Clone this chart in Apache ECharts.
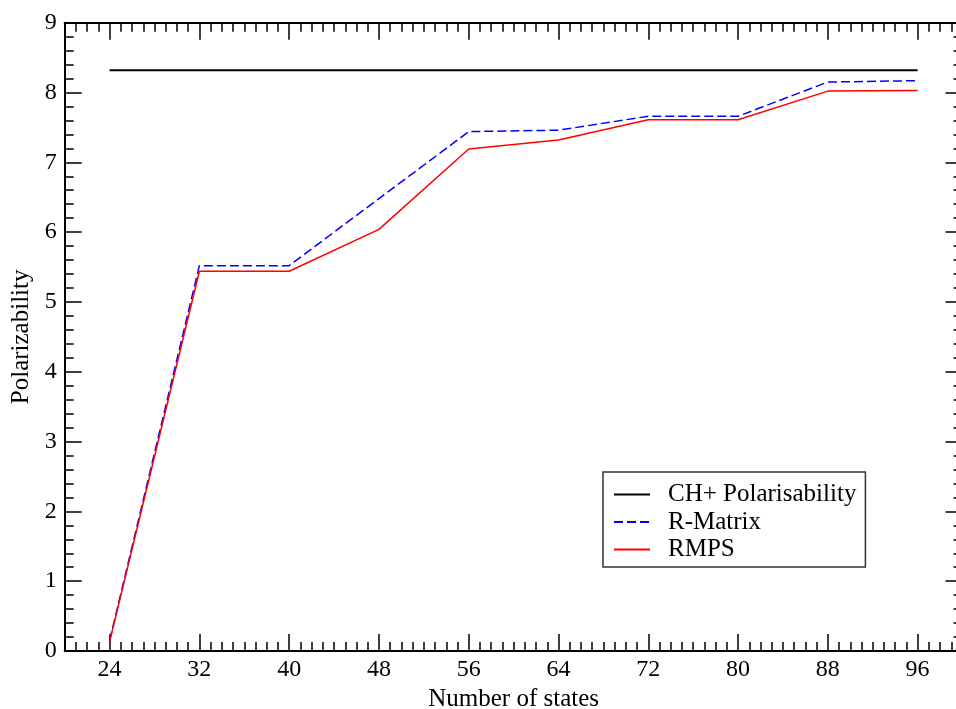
<!DOCTYPE html>
<html>
<head>
<meta charset="utf-8">
<script src="https://cdn.jsdelivr.net/npm/echarts@6/dist/echarts.min.js"></script>
<style>
html,body{margin:0;padding:0;background:#fff;}
#chart{width:956px;height:709px;}
</style>
</head>
<body>
<div id="chart"></div>
<script>
var states = [24, 32, 40, 48, 56, 64, 72, 80, 88, 96];
var chPolar = [8.32, 8.32, 8.32, 8.32, 8.32, 8.32, 8.32, 8.32, 8.32, 8.32];
var rMatrix = [0.15, 5.52, 5.52, 6.48, 7.44, 7.46, 7.66, 7.66, 8.15, 8.17];
var rmps = [0.13, 5.44, 5.44, 6.04, 7.19, 7.32, 7.61, 7.61, 8.02, 8.03];
var xTickLabels = [24, 32, 40, 48, 56, 64, 72, 80, 88, 96];
var seriesNames = ['CH+ Polarisability', 'R-Matrix', 'RMPS'];

var FONT = "'Liberation Serif','Times New Roman',serif";
function pairs(xs, ys){ return xs.map(function(x,i){ return [x, ys[i]]; }); }

var chart = echarts.init(document.getElementById('chart'), null, {renderer:'canvas'});
var minorX = {
  type:'value', min:20, max:100, interval:1,
  axisLine:{show:true, lineStyle:{color:'#000', width:2}},
  axisTick:{show:true, inside:true, length:9, lineStyle:{color:'#000', width:1.5}},
  axisLabel:{show:false}, splitLine:{show:false}
};
var majorX = {
  type:'value', min:20, max:100,
  axisLine:{show:false},
  axisTick:{show:true, inside:true, length:17, customValues:xTickLabels, lineStyle:{color:'#000', width:1.5}},
  splitLine:{show:false}
};
var option = {
  backgroundColor:'#fff',
  animation:false,
  grid:{left:64.7, width:897.8, top:22.7, bottom:58, containLabel:false, outerBoundsMode:'none'},
  xAxis:[
    Object.assign({}, minorX, {position:'bottom'}),
    Object.assign({}, majorX, {position:'bottom',
      axisLabel:{show:true, customValues:xTickLabels, color:'#000', fontFamily:FONT, fontSize:24, margin:7},
      name:'Number of states', nameLocation:'middle', nameGap:33,
      nameTextStyle:{color:'#000', fontFamily:FONT, fontSize:25}}),
    Object.assign({}, minorX, {position:'top'}),
    Object.assign({}, majorX, {position:'top', axisLabel:{show:false}})
  ],
  yAxis:[
    {type:'value', position:'left', min:0, max:9, interval:1,
     axisLine:{show:true, lineStyle:{color:'#000', width:2}},
     axisTick:{show:true, inside:true, length:17, lineStyle:{color:'#000', width:1.5}},
     minorTick:{show:true, splitNumber:5, length:9, lineStyle:{color:'#000', width:1.5}},
     axisLabel:{color:'#000', fontFamily:FONT, fontSize:24, margin:8},
     splitLine:{show:false},
     name:'Polarizability', nameLocation:'middle', nameGap:30,
     nameTextStyle:{color:'#000', fontFamily:FONT, fontSize:25}},
    {type:'value', position:'right', min:0, max:9, interval:1,
     axisLine:{show:true, lineStyle:{color:'#000', width:2}},
     axisTick:{show:true, inside:true, length:17, lineStyle:{color:'#000', width:1.5}},
     minorTick:{show:true, splitNumber:5, length:9, lineStyle:{color:'#000', width:1.5}},
     axisLabel:{show:false}, splitLine:{show:false}}
  ],
  legend:{
    show:true, orient:'vertical', left:603, top:472,
    data:seriesNames,
    itemWidth:36, itemHeight:14, itemGap:2.5,
    padding:[10,9,5,10],
    borderColor:'#333', borderWidth:1.5, backgroundColor:'#fff',
    itemStyle:{opacity:0},
    textStyle:{color:'#000', fontFamily:FONT, fontSize:25, lineHeight:25, padding:[0,0,0,13]},
    selectedMode:false
  },
  series:[
    {name:seriesNames[0], type:'line', xAxisIndex:1, yAxisIndex:0, data:pairs(states, chPolar),
     symbol:'none', lineStyle:{color:'#000', width:2}, itemStyle:{color:'#000'}},
    {name:seriesNames[1], type:'line', xAxisIndex:1, yAxisIndex:0, data:pairs(states, rMatrix),
     symbol:'none', lineStyle:{color:'#0000ff', width:1.5, type:[9,4]}, itemStyle:{color:'#0000ff'}},
    {name:seriesNames[2], type:'line', xAxisIndex:1, yAxisIndex:0, data:pairs(states, rmps),
     symbol:'none', lineStyle:{color:'#ff0000', width:1.5}, itemStyle:{color:'#ff0000'}}
  ]
};
chart.setOption(option);
</script>
</body>
</html>
